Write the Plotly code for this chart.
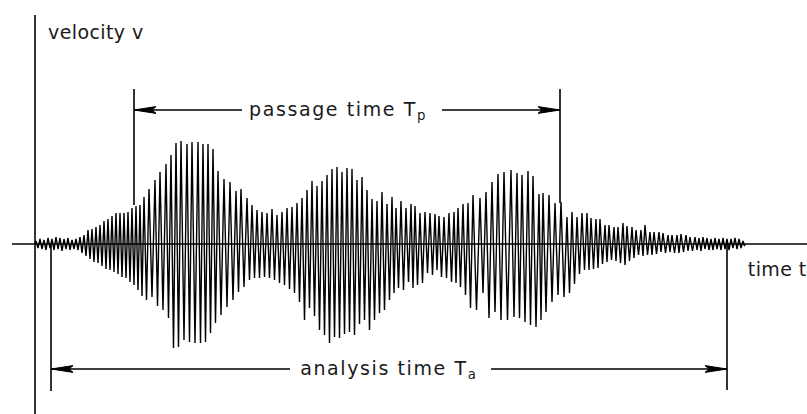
import numpy as np
import plotly.graph_objects as go

# ---------------- data ----------------
# time of each upper peak (time units = picture pixels)
t_up = [36, 40, 44, 48, 52, 56, 60, 64, 68, 72, 76, 80, 84, 88, 92, 96, 100, 104, 108, 112,
        116, 120, 124, 128, 132, 136, 140, 144,
        149, 155, 160, 166, 171, 176, 181, 187, 192, 198, 203, 208, 213, 218, 224, 230, 236, 241, 247, 252,
        257, 262, 267, 272, 277, 282, 287, 292, 297, 302, 307, 312, 317, 322, 327, 332, 337, 342, 347, 352, 357, 362,
        367, 372, 377, 382, 387, 392, 396, 401, 406, 411, 415, 420, 425, 430, 435, 439, 444, 449, 454, 458, 463, 468, 473,
        480, 486, 492, 498, 504, 511, 517, 522, 528, 533, 539, 543, 549, 555, 561, 567, 572, 577, 582,
        587, 591, 596, 600, 605, 609, 614, 618, 623, 627, 632, 636, 641, 645, 650, 654, 659, 663, 668, 672, 677, 681, 686, 690,
        695, 699, 703, 707, 711, 715, 719, 723, 727, 731, 735, 739, 743]

# upper peak velocities (one per cycle)
v_up = [3, 5, 4, 6, 5, 7, 6, 5, 6, 4, 5, 7, 9, 14, 15, 17, 19, 23, 25, 28, 31, 31, 31, 32, 36, 38, 39, 47,
        55, 64, 72, 80, 89, 101, 103, 100, 102, 102, 100, 100, 95, 73, 65, 62, 53, 55, 46, 39,
        34, 32, 31, 35, 29, 32, 36, 37, 41, 46, 54, 63, 58, 63, 69, 75, 77, 72, 76, 75, 64, 67,
        54, 45, 43, 52, 40, 47, 36, 43, 36, 40, 38, 31, 32, 31, 30, 28, 27, 31, 32, 36, 40, 41, 49,
        46, 52, 62, 70, 72, 74, 71, 69, 73, 68, 50, 51, 49, 41, 42, 27, 32, 27, 31,
        31, 26, 25, 25, 19, 19, 17, 17, 21, 18, 17, 14, 14, 19, 12, 12, 12, 11, 9, 9, 9, 10, 9, 7,
        7, 6, 7, 6, 5, 6, 5, 6, 5, 5, 6, 5, 3]

# lower peak magnitudes (one per cycle, following each upper peak)
v_dn = [4, 5, 6, 4, 6, 5, 7, 5, 6, 5, 6, 9, 12, 15, 18, 19, 22, 25, 26, 28, 30, 33, 34, 38, 41, 46, 52, 56,
        53, 62, 66, 74, 104, 103, 96, 98, 99, 99, 98, 89, 79, 71, 63, 56, 48, 43, 36, 34,
        34, 33, 34, 36, 39, 41, 45, 49, 58, 76, 64, 72, 86, 91, 99, 93, 94, 90, 88, 91, 80, 76,
        86, 76, 69, 66, 56, 49, 44, 46, 38, 44, 41, 39, 29, 31, 26, 33, 34, 38, 39, 43, 51, 64, 66,
        49, 74, 68, 76, 76, 73, 74, 78, 81, 83, 76, 68, 58, 51, 53, 49, 40, 30, 26,
        26, 25, 24, 20, 18, 16, 17, 19, 21, 17, 14, 11, 12, 11, 11, 10, 8, 9, 8, 9, 9, 8, 7, 7,
        6, 7, 5, 6, 6, 5, 6, 5, 6, 4, 5, 4, 2]

label_texts = ["velocity v", "passage time T<sub>p</sub>", "analysis time T<sub>a</sub>", "time t"]

SIG_START, SIG_END = 35, 745

# ---------------- build the trace ----------------
n = min(len(t_up), len(v_up), len(v_dn))
xs, ys = [SIG_START], [0]
for i in range(n):
    xs.append(t_up[i]); ys.append(v_up[i])
    t_next = t_up[i + 1] if i + 1 < n else t_up[i] + 3
    xs.append((t_up[i] + t_next) / 2); ys.append(-v_dn[i])
xs.append(SIG_END); ys.append(0)

W, H = 807, 414
AX_X = 35                 # vertical axis position (time units)
Y_TOP, Y_BOT = 244, -170  # velocity range shown

fig = go.Figure()
fig.add_trace(go.Scatter(x=xs, y=ys, mode="lines",
                         line=dict(color="black", width=1.4), hoverinfo="skip"))

LW = 1.6
shapes = []
def seg(x0, y0, x1, y1, w=LW):
    shapes.append(dict(type="line", xref="x", yref="y", x0=x0, y0=y0, x1=x1, y1=y1,
                       line=dict(color="black", width=w)))

def head(xt, y, direction):
    L, hw = 22, 3.4
    xb = xt - L * direction
    xm = xt - (L - 4) * direction
    path = f"M {xt},{y} L {xb},{y + hw} L {xm},{y} L {xb},{y - hw} Z"
    shapes.append(dict(type="path", xref="x", yref="y", path=path,
                       fillcolor="black", line=dict(color="black", width=1)))

# axes
seg(AX_X, 229, AX_X, Y_BOT)
seg(12, 0, W, 0)

# passage time dimension
P_L, P_R, P_Y = 134, 560, 134
seg(P_L, 155, P_L, 39)
seg(P_R, 155, P_R, 41)
seg(P_L, P_Y, 242, P_Y)
seg(442, P_Y, P_R, P_Y)
head(P_L, P_Y, -1)
head(P_R, P_Y, 1)

# analysis time dimension
A_L, A_R, A_Y = 51, 727, -125
seg(A_L, 0, A_L, -147)
seg(A_R, 0, A_R, -146)
seg(A_L, A_Y, 290, A_Y)
seg(491, A_Y, A_R, A_Y)
head(A_L, A_Y, -1)
head(A_R, A_Y, 1)

FONT = dict(family="DejaVu Sans", size=19, color="#1a1a1a")
pos = [(95.5, 212), (337.5, 134), (388.5, -125), (777, -25)]
ann = []
for (x, y), txt in zip(pos, label_texts):
    ann.append(dict(x=x, y=y, text=txt, xanchor="center", yanchor="middle",
                    xref="x", yref="y", showarrow=False, font=FONT))

fig.update_layout(
    width=W, height=H,
    margin=dict(l=0, r=0, t=0, b=0),
    paper_bgcolor="white", plot_bgcolor="white",
    showlegend=False,
    xaxis=dict(range=[0, W], visible=False, fixedrange=True),
    yaxis=dict(range=[Y_BOT, Y_TOP], visible=False, fixedrange=True),
    shapes=shapes, annotations=ann,
)

post = """
document.body.style.margin = '0px';
var sp = ['0.4px', '1.6px', '1.6px', '0.4px'];
document.querySelectorAll('.annotation-text').forEach(function(t, i) {
  t.style.letterSpacing = sp[i] || '0px';
});
"""
fig.write_html("out.html", post_script=post,
               config={"displayModeBar": False, "staticPlot": True})
